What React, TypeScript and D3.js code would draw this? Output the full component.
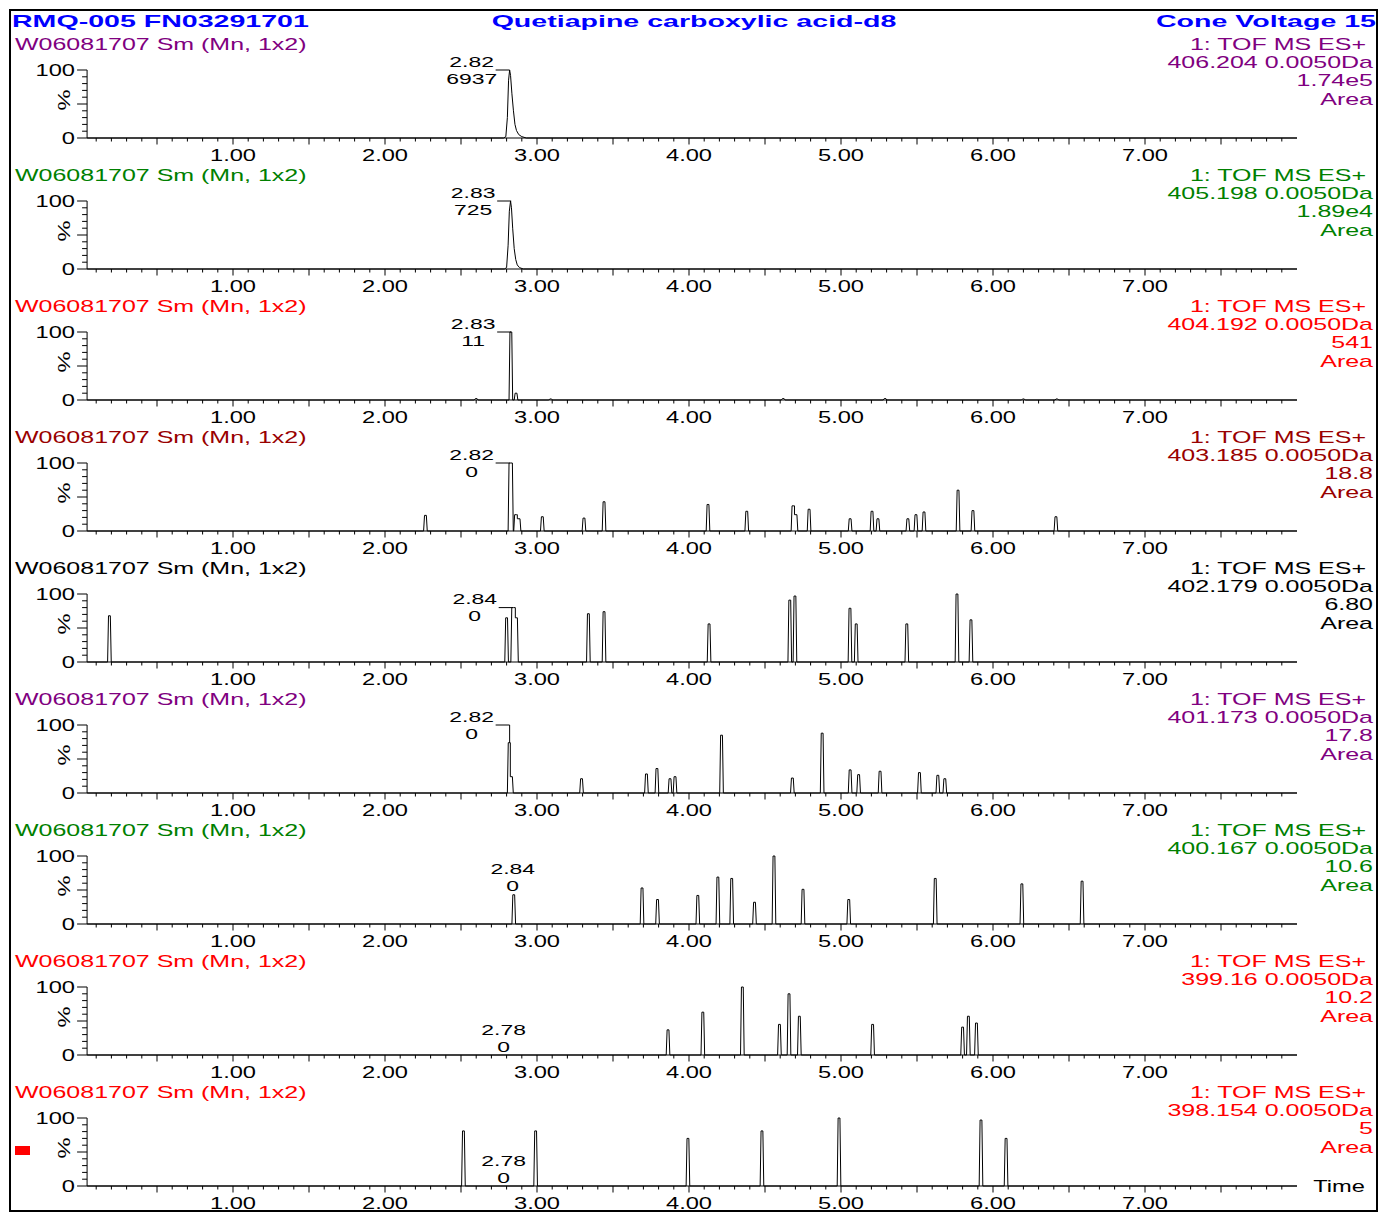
import React from "react";
import * as d3 from "d3";

// chromatogram data (time in min, intensity in %)
const sampleName = "W06081707 Sm (Mn, 1x2)";
const headerLeft = "RMQ-005 FN03291701";
const headerMid = "Quetiapine carboxylic acid-d8";
const headerRight = "Cone Voltage 15";
const scanLine = "1: TOF MS ES+";
const masses = ["406.204", "405.198", "404.192", "403.185", "402.179", "401.173", "400.167", "399.16", "398.154"];
const intensities = ["1.74e5", "1.89e4", "541", "18.8", "6.80", "17.8", "10.6", "10.2", "5"];
const labelTimes = [2.82, 2.83, 2.83, 2.82, 2.84, 2.82, 2.84, 2.78, 2.78];
const labelAreas = ["6937", "725", "11", "0", "0", "0", "0", "0", "0"];
const labelLevels = [100, 100, 100, 100, 80, 100, 43, 0, 0];
const tickLabels = ["1.00", "2.00", "3.00", "4.00", "5.00", "6.00", "7.00"];

const profile406 = [
  [2.78, 0], [2.795, 2], [2.805, 30], [2.813, 85], [2.82, 100], [2.826, 92], [2.835, 65],
  [2.845, 40], [2.855, 20], [2.865, 11], [2.88, 5], [2.9, 2], [2.93, 0],
];
const profile405 = [
  [2.785, 0], [2.8, 2], [2.81, 35], [2.818, 85], [2.826, 100], [2.832, 90], [2.84, 60],
  [2.85, 30], [2.86, 14], [2.87, 6], [2.885, 2], [2.91, 0],
];
const spikes404 = [
  [2.6, 2], [2.828, 100], [2.862, 10], [3.09, 1.5], [4.62, 2], [5.29, 2], [6.2, 1.5], [6.42, 1.5],
];
const spikes403 = [
  [2.266, 23], [2.822, 100], [2.832, 100], [2.859, 24], [2.882, 18], [3.035, 21], [3.309, 19],
  [3.441, 43], [4.125, 39], [4.38, 29], [4.684, 37], [4.704, 24], [4.79, 32], [5.06, 18],
  [5.204, 29], [5.243, 18], [5.44, 18], [5.493, 24], [5.546, 28], [5.77, 60], [5.868, 30], [6.414, 21],
];
const spikes402 = [
  [0.187, 68], [2.8, 65], [2.84, 80], [2.85, 80], [2.865, 65], [3.338, 71], [3.441, 74],
  [4.132, 56], [4.663, 91], [4.697, 97], [5.059, 79], [5.1, 56], [5.433, 56], [5.763, 100], [5.855, 62],
];
const spikes401 = [
  [2.817, 74], [2.832, 24], [3.293, 21], [3.72, 28], [3.789, 36], [3.875, 21], [3.908, 24],
  [4.214, 85], [4.68, 22], [4.876, 88], [5.06, 34], [5.116, 27], [5.257, 32], [5.516, 30],
  [5.637, 26], [5.683, 21],
];
const spikes400 = [
  [2.847, 43], [3.691, 53], [3.793, 36], [4.058, 42], [4.19, 69], [4.281, 67], [4.431, 32],
  [4.559, 100], [4.75, 51], [5.051, 36], [5.62, 67], [6.19, 59], [6.586, 63],
];
const spikes399 = [
  [3.862, 37], [4.091, 63], [4.351, 100], [4.595, 45], [4.658, 90], [4.726, 57], [5.208, 45],
  [5.8, 41], [5.838, 57], [5.891, 47],
];
const spikes398 = [
  [2.516, 81], [2.991, 81], [3.993, 70], [4.48, 81], [4.987, 100], [5.921, 97], [6.086, 70],
];

const traces = [profile406, profile405, spikes404, spikes403, spikes402, spikes401, spikes400, spikes399, spikes398];
const isProfile = [true, true, false, false, false, false, false, false, false];
const colors = ["#800080", "#008000", "#ff0000", "#990000", "#000000", "#800080", "#008000", "#ff0000", "#ff0000"];

const W = 1380;
const H = 1213;
const T0 = 0.04;
const TEND = 8;
const HW = 0.012;
const STEP = 131;
const FONT = "'Liberation Sans', Arial, sans-serif";

const x = d3.scaleLinear().domain([0, 8]).range([81, 1297]);

function spikePoints(sp) {
  const pts = [[T0, 0]];
  sp.forEach(([t, h], i) => {
    const prev = sp[i - 1];
    if (prev && t - prev[0] < 2.2 * HW) {
      const mid = Math.max(prev[0] + HW * 0.5, (prev[0] + t) / 2);
      pts.push([mid, prev[1]], [mid, h], [t + HW * 0.5, h]);
    } else {
      pts.push([t - HW, 0], [t - HW * 0.5, h], [t + HW * 0.5, h]);
    }
    const next = sp[i + 1];
    if (!next || next[0] - t >= 2.2 * HW) pts.push([t + HW, 0]);
  });
  pts.push([TEND, 0]);
  return pts;
}

function Txt({ x, y, anchor = "start", size = 16, sx = 1.48, weight = "normal", fill = "#000", rotate = 0, children }) {
  return (
    <text
      transform={`translate(${x},${y})${rotate ? ` rotate(${rotate})` : ""} scale(${sx},1)`}
      textAnchor={anchor}
      dominantBaseline="central"
      fontSize={size}
      fontWeight={weight}
      fill={fill}
      fontFamily={FONT}
    >
      {children}
    </text>
  );
}

function Panel({ i }) {
  const top = STEP * i;
  const y = d3.scaleLinear().domain([0, 100]).range([138 + top, 70 + top]);
  const col = colors[i];
  const data = traces[i];
  const pts = isProfile[i] ? [[T0, 0], ...data, [TEND, 0]] : spikePoints(data);
  const line = d3.line().x((d) => x(d[0])).y((d) => y(d[1]));

  const lt = labelTimes[i];
  const lvl = labelLevels[i];
  const px = x(lt);
  const near = data.filter((d) => Math.abs(d[0] - lt) <= 0.0101);
  const dropTo = near.length ? d3.max(near, (d) => d[1]) : 0;
  const leader = i < 6;

  const xTicks = d3.range(1, 80).map((k) => k / 10);
  const yTicks = d3.range(0, 101, 10);
  const ax = x(T0);

  return (
    <g>
      <Txt x={15} y={44 + top} size={17} sx={1.47} fill={col}>{sampleName}</Txt>
      <Txt x={1366} y={44 + top} anchor="end" size={17} sx={1.47} fill={col}>{scanLine}</Txt>
      <Txt x={1373} y={62.3 + top} anchor="end" size={17} sx={1.47} fill={col}>{`${masses[i]} 0.0050Da`}</Txt>
      <Txt x={1373} y={80.6 + top} anchor="end" size={17} sx={1.47} fill={col}>{intensities[i]}</Txt>
      <Txt x={1373} y={99 + top} anchor="end" size={17} sx={1.47} fill={col}>Area</Txt>

      {/* y axis */}
      <line x1={ax} x2={ax} y1={y(0)} y2={y(100)} stroke="#000" />
      {yTicks.map((v) => (
        <line key={v} x1={v % 50 === 0 ? ax - 10 : ax - 5} x2={ax} y1={y(v)} y2={y(v)} stroke="#000" />
      ))}
      <Txt x={75} y={y(100)} anchor="end">100</Txt>
      <Txt x={75} y={y(0)} anchor="end">0</Txt>
      <Txt x={64} y={y(50) - 4} anchor="middle" rotate={-90}>%</Txt>

      {/* x axis */}
      <line x1={ax} x2={x(TEND)} y1={y(0)} y2={y(0)} stroke="#000" />
      {xTicks.map((t, k) => (
        <line key={k} x1={x(t)} x2={x(t)} y1={y(0)} y2={y(0) + ((k + 1) % 5 === 0 ? 6.5 : 3.5)} stroke="#000" />
      ))}
      {tickLabels.map((s, k) => (
        <Txt key={s} x={x(k + 1)} y={y(0) + 17} anchor="middle">{s}</Txt>
      ))}

      <path d={line(pts)} fill="none" stroke="#000" strokeWidth={1} strokeLinejoin="round" />

      {leader ? (
        <g>
          <path
            d={`M${px - 14},${y(lvl)}H${px}V${y(dropTo)}`}
            fill="none"
            stroke="#000"
            strokeWidth={1}
          />
          <Txt x={px - 38} y={y(lvl) - 9} anchor="middle" size={15.5}>{lt.toFixed(2)}</Txt>
          <Txt x={px - 38} y={y(lvl) + 8} anchor="middle" size={15.5}>{labelAreas[i]}</Txt>
        </g>
      ) : (
        <g>
          <Txt x={px} y={y(lvl) - 26} anchor="middle" size={15.5}>{lt.toFixed(2)}</Txt>
          <Txt x={px} y={y(lvl) - 9} anchor="middle" size={15.5}>{labelAreas[i]}</Txt>
        </g>
      )}
    </g>
  );
}

export default function App() {
  return (
    <svg
      width={W}
      height={H}
      viewBox={`0 0 ${W} ${H}`}
      style={{ position: "absolute", left: 0, top: 0, background: "#fff" }}
    >
      <rect x={0} y={0} width={W} height={H} fill="#fff" />
      <rect x={10} y={10} width={1367} height={1201} fill="none" stroke="#000" strokeWidth={2} />
      <Txt x={12} y={21} weight="bold" size={17} sx={1.68} fill="#0000ff">{headerLeft}</Txt>
      <Txt x={694} y={21} anchor="middle" weight="bold" size={17} sx={1.68} fill="#0000ff">{headerMid}</Txt>
      <Txt x={1376} y={21} anchor="end" weight="bold" size={17} sx={1.68} fill="#0000ff">{headerRight}</Txt>
      {masses.map((m, i) => (
        <Panel key={m} i={i} />
      ))}
      <Txt x={1365} y={1186} anchor="end">Time</Txt>
      <rect x={15} y={1146} width={15} height={9} fill="#ff0000" />
    </svg>
  );
}
